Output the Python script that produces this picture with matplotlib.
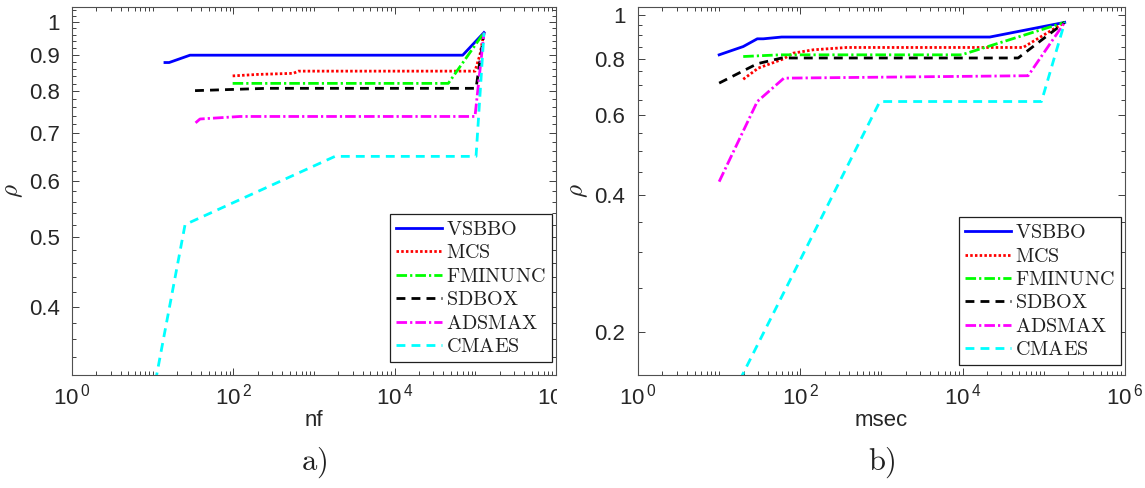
import matplotlib
matplotlib.use('Agg')
import matplotlib.pyplot as plt
from matplotlib.ticker import FixedLocator, NullFormatter, FixedFormatter
from matplotlib.patches import Rectangle

plt.rcParams['font.family'] = ['Liberation Sans', 'DejaVu Sans']
plt.rcParams['mathtext.fontset'] = 'custom'
plt.rcParams['mathtext.rm'] = 'Liberation Sans'
plt.rcParams['mathtext.it'] = 'Liberation Sans:italic'
plt.rcParams['mathtext.bf'] = 'Liberation Sans:bold'

# ---------------- data: panel a) (nf) ----------------
names = ['VSBBO', 'MCS', 'FMINUNC', 'SDBOX', 'ADSMAX', 'CMAES']

vsbbo_nf_x = [14.2, 16, 29, 69700, 128000]
vsbbo_nf_y = [0.878, 0.878, 0.899, 0.899, 0.967]
mcs_nf_x = [98, 200, 554, 640, 99000, 114000, 128000]
mcs_nf_y = [0.841, 0.845, 0.848, 0.854, 0.854, 0.900, 0.967]
fminunc_nf_x = [98, 46200, 128000]
fminunc_nf_y = [0.821, 0.821, 0.967]
sdbox_nf_x = [33.5, 259, 102000, 128000]
sdbox_nf_y = [0.802, 0.808, 0.808, 0.967]
adsmax_nf_x = [34, 38.6, 121, 99000, 128000]
adsmax_nf_y = [0.723, 0.732, 0.738, 0.738, 0.967]
cmaes_nf_x = [10, 25.2, 1820, 102000, 128000]
cmaes_nf_y = [0.30, 0.521, 0.649, 0.649, 0.967]

# ---------------- data: panel b) (msec) ----------------
vsbbo_ms_x = [10, 19.8, 29.5, 35, 58.8, 21600, 181000]
vsbbo_ms_y = [0.816, 0.851, 0.885, 0.885, 0.893, 0.893, 0.962]
mcs_ms_x = [19.8, 30.4, 61.6, 81.8, 144, 372, 55600, 181000]
mcs_ms_y = [0.721, 0.763, 0.799, 0.823, 0.837, 0.847, 0.847, 0.962]
fminunc_ms_x = [19.8, 56, 9690, 181000]
fminunc_ms_y = [0.809, 0.816, 0.816, 0.962]
sdbox_ms_x = [10, 29.5, 58.8, 48300, 181000]
sdbox_ms_y = [0.707, 0.780, 0.803, 0.803, 0.962]
adsmax_ms_x = [10, 29.5, 62.8, 64100, 181000]
adsmax_ms_y = [0.429, 0.644, 0.725, 0.734, 0.962]
cmaes_ms_x = [18, 955, 93600, 181000]
cmaes_ms_y = [0.157, 0.644, 0.644, 0.962]

x_major = [1, 1e2, 1e4, 1e6]
x_major_labels = [r'$\mathdefault{10^{\,0}}$', r'$\mathdefault{10^{\,2}}$',
                  r'$\mathdefault{10^{\,4}}$', r'$\mathdefault{10^{\,6}}$']
yL_major = [0.4, 0.5, 0.6, 0.7, 0.8, 0.9, 1.0]
yL_labels = ['0.4', '0.5', '0.6', '0.7', '0.8', '0.9', '1']
yR_major = [0.2, 0.4, 0.6, 0.8, 1.0]
yR_labels = ['0.2', '0.4', '0.6', '0.8', '1']

styles = [
    dict(color=(0, 0, 1), linestyle='-'),
    dict(color=(1, 0, 0), linestyle=(0, (0.9, 0.8))),
    dict(color=(0, 1, 0), linestyle=(0, (3.8, 1.1, 0.8, 1.1))),
    dict(color=(0, 0, 0), linestyle=(0, (3.2, 2.2))),
    dict(color=(1, 0, 1), linestyle=(0, (3.8, 1.1, 0.8, 1.1))),
    dict(color=(0, 1, 1), linestyle=(0, (3.2, 2.2))),
]

fig = plt.figure(figsize=(11.45, 4.88), dpi=100)
axL = fig.add_axes([0.0629, 0.2316, 0.4227, 0.7541])
axR = fig.add_axes([0.5572, 0.2316, 0.4253, 0.7541])

seriesL = [(vsbbo_nf_x, vsbbo_nf_y), (mcs_nf_x, mcs_nf_y), (fminunc_nf_x, fminunc_nf_y),
           (sdbox_nf_x, sdbox_nf_y), (adsmax_nf_x, adsmax_nf_y), (cmaes_nf_x, cmaes_nf_y)]
seriesR = [(vsbbo_ms_x, vsbbo_ms_y), (mcs_ms_x, mcs_ms_y), (fminunc_ms_x, fminunc_ms_y),
           (sdbox_ms_x, sdbox_ms_y), (adsmax_ms_x, adsmax_ms_y), (cmaes_ms_x, cmaes_ms_y)]

x_minor = []
for k in range(0, 6):
    for s in range(1, 10):
        v = s * 10 ** k
        if v not in x_major:
            x_minor.append(v)


def frange(a, b, step):
    out = []
    n = int(round((b - a) / step))
    for i in range(n + 1):
        out.append(round(a + i * step, 4))
    return out


def setup(ax, series, ylim, ymaj, ylab, yminor, xlabel, panel, leg_anchor, ylab_x):
    for (x, y), name, st in zip(series, names, styles):
        ax.plot(x, y, lw=2, label=r'$\mathrm{' + name + '}$', **st)
    ax.set_xscale('log')
    ax.set_yscale('log')
    ax.set_xlim(1, 1e6)
    ax.set_ylim(*ylim)
    ax.xaxis.set_major_locator(FixedLocator(x_major))
    ax.xaxis.set_major_formatter(FixedFormatter(x_major_labels))
    ax.xaxis.set_minor_locator(FixedLocator(x_minor))
    ax.xaxis.set_minor_formatter(NullFormatter())
    ax.yaxis.set_major_locator(FixedLocator(ymaj))
    ax.yaxis.set_major_formatter(FixedFormatter(ylab))
    ymin = [v for v in yminor if all(abs(v - m) > 1e-6 for m in ymaj)]
    ax.yaxis.set_minor_locator(FixedLocator(ymin))
    ax.yaxis.set_minor_formatter(NullFormatter())
    ax.tick_params(which='both', direction='in', top=True, right=True,
                   color='#404040', width=0.7, labelsize=16, labelcolor='#262626')
    ax.tick_params(which='major', length=5)
    ax.tick_params(which='minor', length=2.6)
    ax.tick_params(axis='y', which='major', pad=9)
    ax.tick_params(axis='x', which='major', pad=6)
    for sp in ax.spines.values():
        sp.set_color('#505050')
        sp.set_linewidth(0.8)
    ax.set_xlabel(xlabel, fontsize=16, color='#262626')
    ax.xaxis.set_label_coords(0.5, -0.095)
    yl = ax.set_ylabel(r'$\rho$', fontsize=18, color='#262626')
    yl.set_math_fontfamily('cm')
    ax.yaxis.set_label_coords(ylab_x, 0.5)
    t = ax.text(0.5, -0.238, r'$\mathrm{' + panel + ')}$', transform=ax.transAxes,
                ha='center', va='center', fontsize=22, color='#202020')
    t.set_math_fontfamily('cm')
    leg = ax.legend(loc='upper left', bbox_to_anchor=leg_anchor, borderaxespad=0,
                    fontsize=14.5, handlelength=2.3, handletextpad=0.2,
                    labelspacing=0.22, borderpad=0.3, fancybox=False,
                    framealpha=1, edgecolor='#202020')
    leg.get_frame().set_linewidth(0.9)
    for tx in leg.get_texts():
        tx.set_math_fontfamily('cm')
        tx.set_color('#202020')


setup(axL, seriesL, (0.321, 1.05), yL_major, yL_labels, frange(0.34, 1.04, 0.02),
      'nf', 'a', (0.657, 0.4375), -0.098)
setup(axR, seriesR, (0.161, 1.04), yR_major, yR_labels, frange(0.25, 1.0, 0.05),
      'msec', 'b', (0.659, 0.429), -0.099)

# the left panel's last x-label is cut off at its right edge in the reference
fig.add_artist(Rectangle((557 / 1145, 1 - 416 / 488), 40 / 1145, 38 / 488,
                         transform=fig.transFigure, facecolor='white',
                         edgecolor='none', zorder=10))

fig.savefig('out.png', dpi=100)
